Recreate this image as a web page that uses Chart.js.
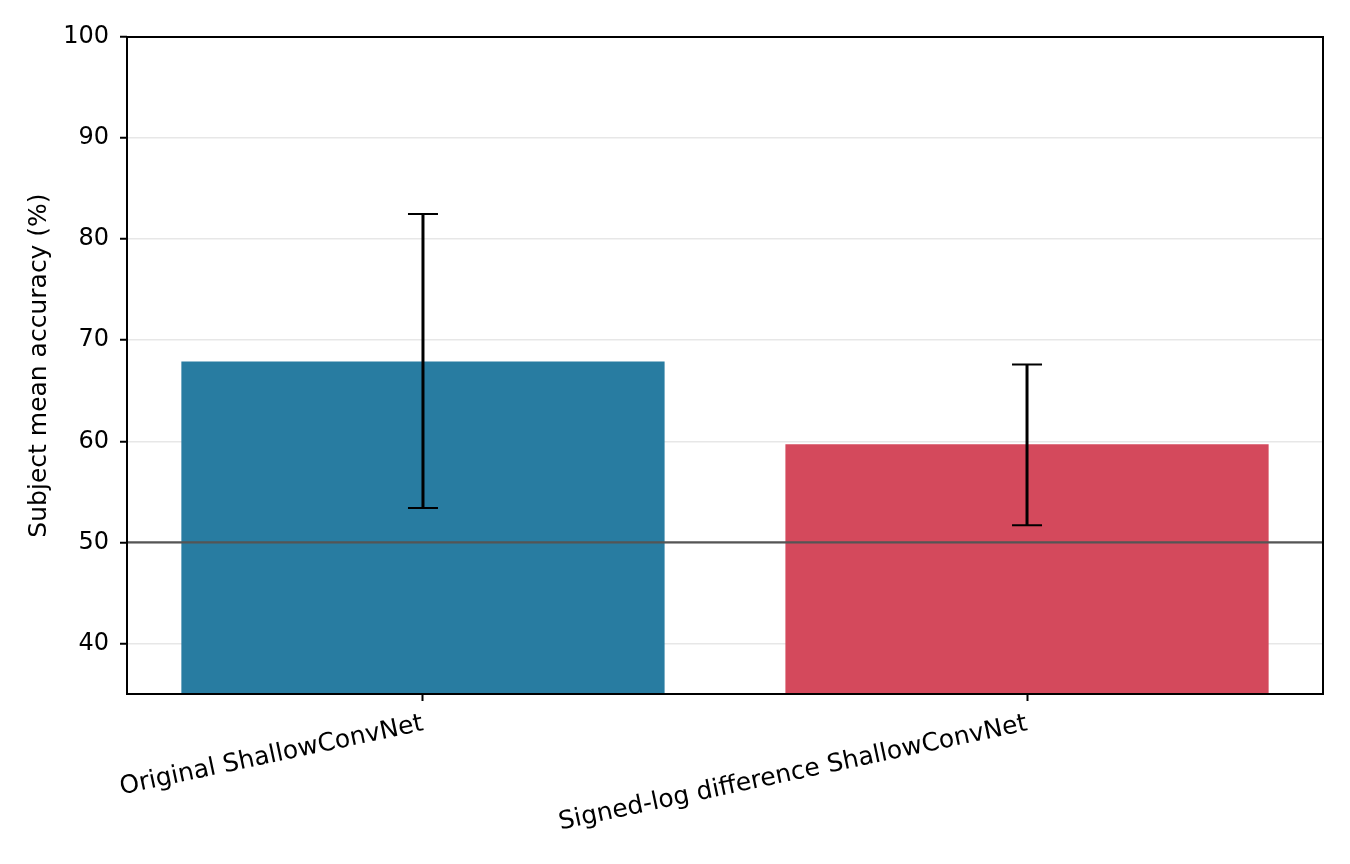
<!DOCTYPE html>
<html>
<head>
<meta charset="utf-8">
<script src="https://cdn.jsdelivr.net/npm/chart.js@4.4.1/dist/chart.umd.min.js"></script>
<style>
  html, body { margin: 0; padding: 0; background: #fff; }
  #wrap { width: 1350px; height: 864px; }
</style>
</head>
<body>
<div id="wrap"><canvas id="accChart" width="1350" height="864"></canvas></div>
<script>
  const models    = ["Original ShallowConvNet", "Signed-log difference ShallowConvNet"];
  const modelPos  = [0, 1];
  const meanAcc   = [67.9, 59.7];
  const errLow    = [53.4, 51.7];
  const errHigh   = [82.5, 67.6];
  const barColors = ["#287ca1", "#d4495c"];
  const chance    = 50;
  const yTicks    = [40, 50, 60, 70, 80, 90, 100];

  const FONT = "'DejaVu Sans', sans-serif";

  /* error bars, chance line and the axes frame, drawn over the bars */
  const overlay = {
    id: "overlay",
    afterDraw(chart) {
      const { ctx, chartArea: a } = chart;
      const x = chart.scales.x, y = chart.scales.y;
      ctx.save();

      // chance level
      ctx.strokeStyle = "#555555";
      ctx.lineWidth = 2.2;
      ctx.beginPath();
      ctx.moveTo(a.left, y.getPixelForValue(chance));
      ctx.lineTo(a.right, y.getPixelForValue(chance));
      ctx.stroke();

      // error bars
      ctx.strokeStyle = "#000";
      modelPos.forEach((p, i) => {
        const cx = x.getPixelForValue(p);
        const top = y.getPixelForValue(errHigh[i]);
        const bot = y.getPixelForValue(errLow[i]);
        ctx.lineWidth = 3;
        ctx.beginPath();
        ctx.moveTo(cx, top);
        ctx.lineTo(cx, bot);
        ctx.stroke();
        ctx.lineWidth = 2;
        ctx.beginPath();
        ctx.moveTo(cx - 15, top); ctx.lineTo(cx + 15, top);
        ctx.moveTo(cx - 15, bot); ctx.lineTo(cx + 15, bot);
        ctx.stroke();
      });

      // frame
      ctx.lineWidth = 2;
      ctx.strokeRect(a.left, a.top, a.right - a.left, a.bottom - a.top);
      ctx.restore();
    }
  };

  new Chart(document.getElementById("accChart"), {
    type: "bar",
    data: {
      datasets: [{
        data: modelPos.map((p, i) => ({ x: p, y: meanAcc[i] })),
        backgroundColor: barColors,
        barPercentage: 0.8,
        categoryPercentage: 1.0,
        base: 35
      }]
    },
    options: {
      responsive: false,
      animation: false,
      layout: { padding: { top: 37, right: 27, left: 0, bottom: 0 } },
      plugins: {
        legend: { display: false },
        tooltip: { enabled: false }
      },
      scales: {
        x: {
          type: "linear",
          min: -0.49,
          max: 1.49,
          offset: false,
          border: { display: false },
          afterBuildTicks(scale) {
            scale.ticks = modelPos.map(v => ({ value: v }));
          },
          grid: {
            offset: false,
            drawOnChartArea: false,
            drawTicks: true,
            tickLength: 7,
            tickColor: "#000",
            tickWidth: 2
          },
          ticks: {
            color: "#000",
            font: { family: FONT, size: 25 },
            minRotation: 12,
            maxRotation: 12,
            padding: 8,
            callback(v) { return models[modelPos.indexOf(v)] ?? ""; }
          },
          afterFit(scale) { scale.height = 864 - 694; }
        },
        y: {
          min: 35,
          max: 100,
          z: 1,
          border: { display: false },
          afterBuildTicks(scale) {
            scale.ticks = yTicks.map(v => ({ value: v }));
          },
          grid: {
            color: "rgba(180,180,180,0.32)",
            lineWidth: 1.5,
            tickLength: 7,
            tickColor: "#000",
            tickWidth: 2
          },
          ticks: {
            color: "#000",
            font: { family: FONT, size: 24 },
            padding: 11
          },
          title: {
            display: true,
            text: "Subject mean accuracy (%)",
            color: "#000",
            font: { family: FONT, size: 25 },
            padding: { top: 24, bottom: 0 }
          },
          afterFit(scale) { scale.width = 127; }
        }
      }
    },
    plugins: [overlay]
  });
</script>
</body>
</html>
